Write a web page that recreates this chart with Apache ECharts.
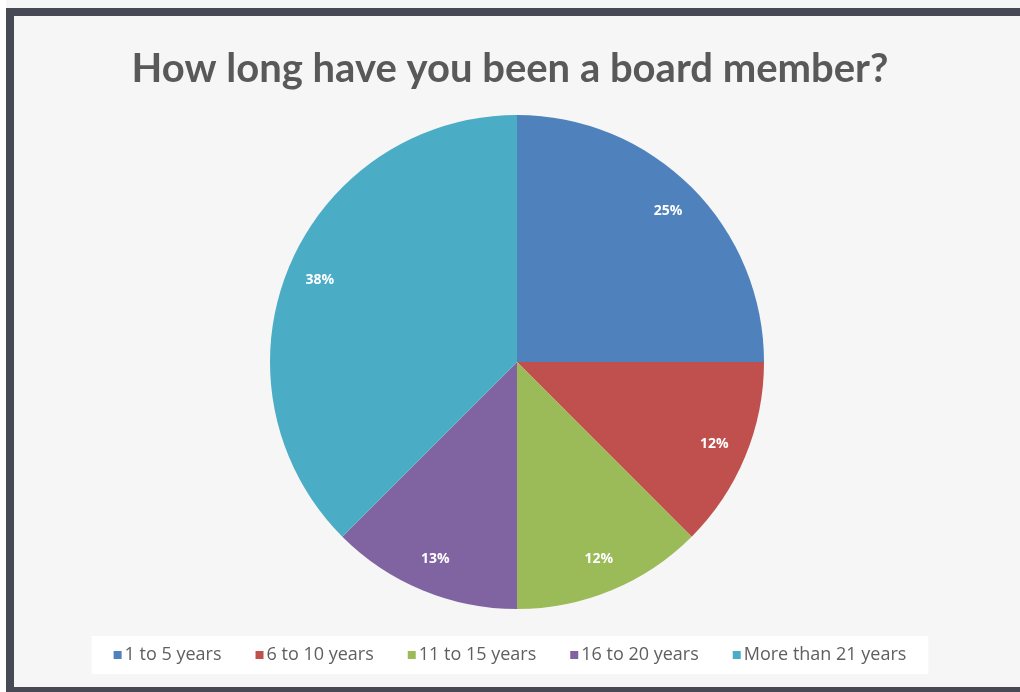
<!DOCTYPE html>
<html>
<head>
<meta charset="utf-8">
<script src="https://cdn.jsdelivr.net/npm/echarts@6/dist/echarts.min.js"></script>
<style>
  html, body { margin: 0; padding: 0; background: #f6f6f6; overflow: hidden; }
  .frame {
    position: absolute; left: 6px; top: 8px; right: -20px; height: 671px;
    border-left: 8px solid #474954; border-top: 8px solid #474954; border-bottom: 5px solid #474954;
    background: #f6f6f6;
  }
  .edge { position: absolute; left: 0; top: 0; width: 6px; height: 692px; background: #ffffff; }
  #chart { position: absolute; left: 0; top: 0; width: 1020px; height: 692px; }
</style>
</head>
<body>
<div class="edge"></div>
<div class="frame"></div>
<div id="chart"></div>
<script>
// data
const categories = ['1 to 5 years', '6 to 10 years', '11 to 15 years', '16 to 20 years', 'More than 21 years'];
const shares = [25, 12.5, 12.5, 12.5, 37.5];          // slice sizes (%)
const shownLabels = ['25%', '12%', '12%', '13%', '38%']; // labels as printed
const colors = ['#4f81bd', '#c0504d', '#9bbb59', '#8064a2', '#4bacc6'];

const chart = echarts.init(document.getElementById('chart'), null, { renderer: 'canvas' });

const pieData = categories.map((c, i) => ({ name: c, value: shares[i] }));

const option = {
  backgroundColor: 'transparent',
  color: colors,
  title: {
    text: 'How long have you been a board member?',
    left: 'center',
    top: 44,
    textStyle: { fontFamily: 'Lato', fontWeight: 'bold', fontSize: 40, color: '#595959' }
  },
  legend: {
    data: categories,
    left: 'center',
    top: 636,
    padding: [10, 22, 10, 22],
    backgroundColor: '#ffffff',
    itemWidth: 8,
    itemHeight: 8,
    itemGap: 34,
    icon: 'rect',
    textStyle: { fontFamily: 'Open Sans', fontSize: 18, color: '#5f5f5f', padding: [0, 0, 0, -2] }
  },
  series: [
    {
      type: 'pie',
      center: [517, 362],
      radius: [0, 247],
      startAngle: 90,
      clockwise: true,
      silent: true,
      label: { show: false },
      labelLine: { show: false },
      itemStyle: { borderWidth: 0 },
      data: pieData
    },
    {
      // transparent ring used only to place the labels near the rim
      type: 'pie',
      center: [517, 362],
      radius: [174, 247],
      startAngle: 90,
      clockwise: true,
      silent: true,
      itemStyle: { color: 'rgba(0,0,0,0)', borderWidth: 0 },
      label: {
        show: true,
        position: 'inside',
        formatter: p => shownLabels[p.dataIndex],
        fontFamily: 'Open Sans',
        fontWeight: 'bold',
        fontSize: 14,
        color: '#ffffff'
      },
      labelLine: { show: false },
      data: pieData
    }
  ]
};

chart.setOption(option);
</script>
</body>
</html>
